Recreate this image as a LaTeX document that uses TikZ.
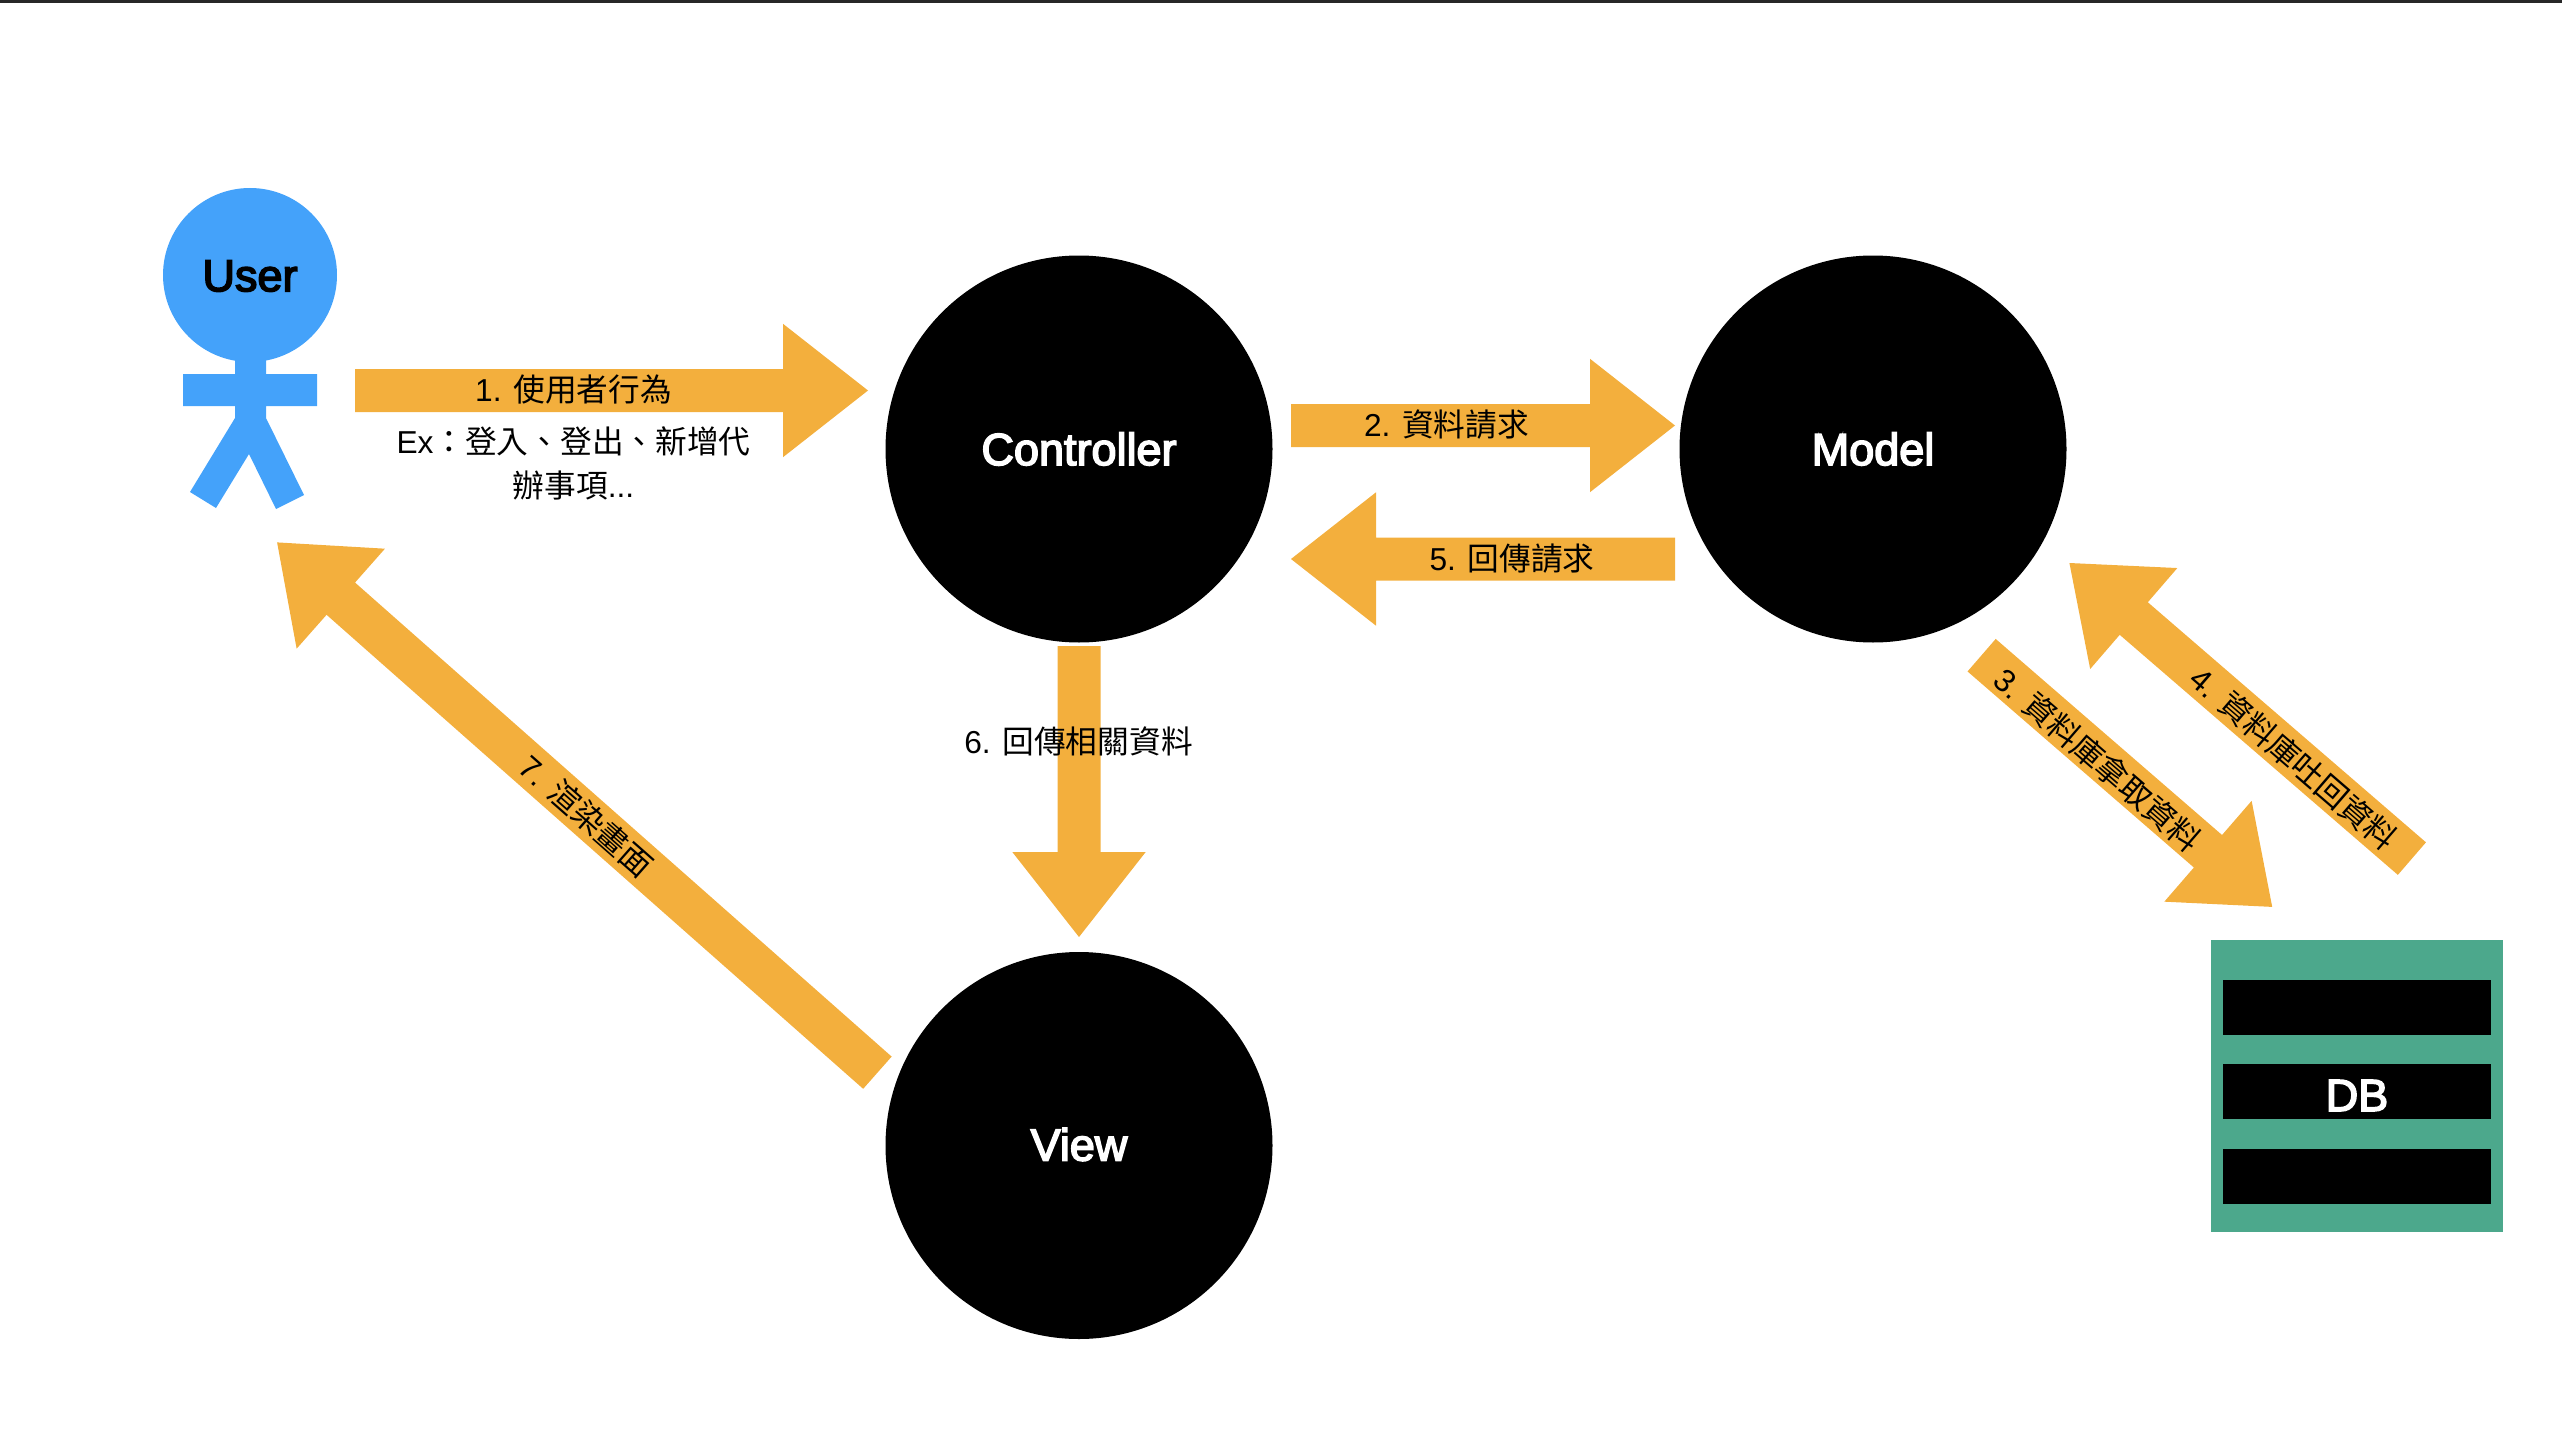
\documentclass[tikz,border=0pt]{standalone}
\usepackage{fontspec}
\setmainfont{Liberation Sans}
\newfontfamily\cjk{Noto Sans CJK TC}
\newfontfamily\boldish[FakeBold=3.5]{Liberation Sans}
\usetikzlibrary{calc}
\definecolor{arrowor}{HTML}{F3AF3D}
\definecolor{userblue}{HTML}{44A2FA}
\definecolor{dbgreen}{HTML}{4CA88C}
\definecolor{topbar}{HTML}{282828}
\newcommand{\blockarrow}[2]{%
  \fill[arrowor] ($(#1)!21.5pt!90:(#2)$) -- ($($(#2)!85pt!(#1)$)!21.5pt!90:(#2)$)
    -- ($($(#2)!85pt!(#1)$)!66.7pt!90:(#2)$) -- (#2)
    -- ($($(#2)!85pt!(#1)$)!66.7pt!-90:(#2)$) -- ($($(#2)!85pt!(#1)$)!21.5pt!-90:(#2)$)
    -- ($(#1)!21.5pt!-90:(#2)$) -- cycle;}
\tikzset{
  heading/.style={inner sep=0pt,font=\fontsize{45}{50}\selectfont\boldish},
  big/.style={circle,fill=black,minimum size=387pt,inner sep=0pt},
  lab/.style={text=black,inner sep=0pt,align=center,font=\fontsize{31.7}{36}\selectfont},
  bar/.style={fill=black,minimum width=268pt,minimum height=55pt,inner sep=0pt},
}
\begin{document}
\begin{tikzpicture}[x=1pt,y=-1pt]
\useasboundingbox (0,0) rectangle (2562,1442);
\fill[topbar] (0,0) rectangle (2562,3.5);
% actor
\fill[userblue] (235,340) -- (266,340) -- (266,374) -- (317,374) -- (317,406) -- (266,406) -- (266,418)
  -- (304,495) -- (276,509) -- (249,454) -- (216,508) -- (190,492) -- (235,418) -- (235,406)
  -- (183,406) -- (183,374) -- (235,374) -- cycle;
\node[circle,fill=userblue,minimum size=174pt,inner sep=0pt] (user) at (250,275) {};
\node[heading,text=black] (userlabel) at (250,276) {User};
% main nodes
\node[big] (controller) at (1079,449) {};
\node[heading,text=white] (controllerlabel) at (1079,449) {Controller};
\node[big] (model) at (1873,449) {};
\node[heading,text=white] (modellabel) at (1873,449) {Model};
\node[big] (view) at (1079,1145.5) {};
\node[heading,text=white] (viewlabel) at (1079,1144.5) {View};
% database
\node[fill=dbgreen,minimum width=292pt,minimum height=292pt,inner sep=0pt] (db) at (2357,1086) {};
\node[bar] (dbtop) at (2357,1007.5) {};
\node[bar] (dbmid) at (2357,1091.5) {};
\node[bar] (dbbot) at (2357,1176) {};
\node[heading,text=white] (dblabel) at (2357,1095.5) {DB};
% arrow ends
\coordinate (a1s) at (355,390.5);  \coordinate (a1e) at (868,390.5);
\coordinate (a2s) at (1291,425.5); \coordinate (a2e) at (1675,425.5);
\coordinate (a3s) at (1981.6,655.2); \coordinate (a3e) at (2272.2,906.9);
\coordinate (a4s) at (2411.9,858.6); \coordinate (a4e) at (2069.4,563);
\coordinate (a5s) at (1675,559);   \coordinate (a5e) at (1291,559);
\coordinate (a6s) at (1079,646);   \coordinate (a6e) at (1079,937);
\coordinate (a7s) at (877.4,1072.7); \coordinate (a7e) at (277.1,542.4);
\blockarrow{a1s}{a1e}
\blockarrow{a2s}{a2e}
\blockarrow{a3s}{a3e}
\blockarrow{a4s}{a4e}
\blockarrow{a5s}{a5e}
\blockarrow{a6s}{a6e}
\blockarrow{a7s}{a7e}
% labels
\node[lab] (l1) at (573.5,389.5) {1. {\cjk 使用者行為}};
\node[lab] (l1b) at (573.5,441) {Ex{\cjk ：登入、登出、新增代}};
\node[lab] (l1c) at (573.5,485) {{\cjk 辦事項}...};
\node[lab] (l2) at (1446.5,424.5) {2. {\cjk 資料請求}};
\node[lab,rotate=-40.8] (l3) at (2098,759.5) {3. {\cjk 資料庫拿取資料}};
\node[lab,rotate=-40.8] (l4) at (2293.5,758.5) {4. {\cjk 資料庫吐回資料}};
\node[lab] (l5) at (1512,558.5) {5. {\cjk 回傳請求}};
\node[lab] (l6) at (1078.5,741.5) {6. {\cjk 回傳相關資料}};
\node[lab,rotate=-41.4] (l7) at (586.5,816) {7. {\cjk 渲染畫面}};
\end{tikzpicture}
\end{document}
